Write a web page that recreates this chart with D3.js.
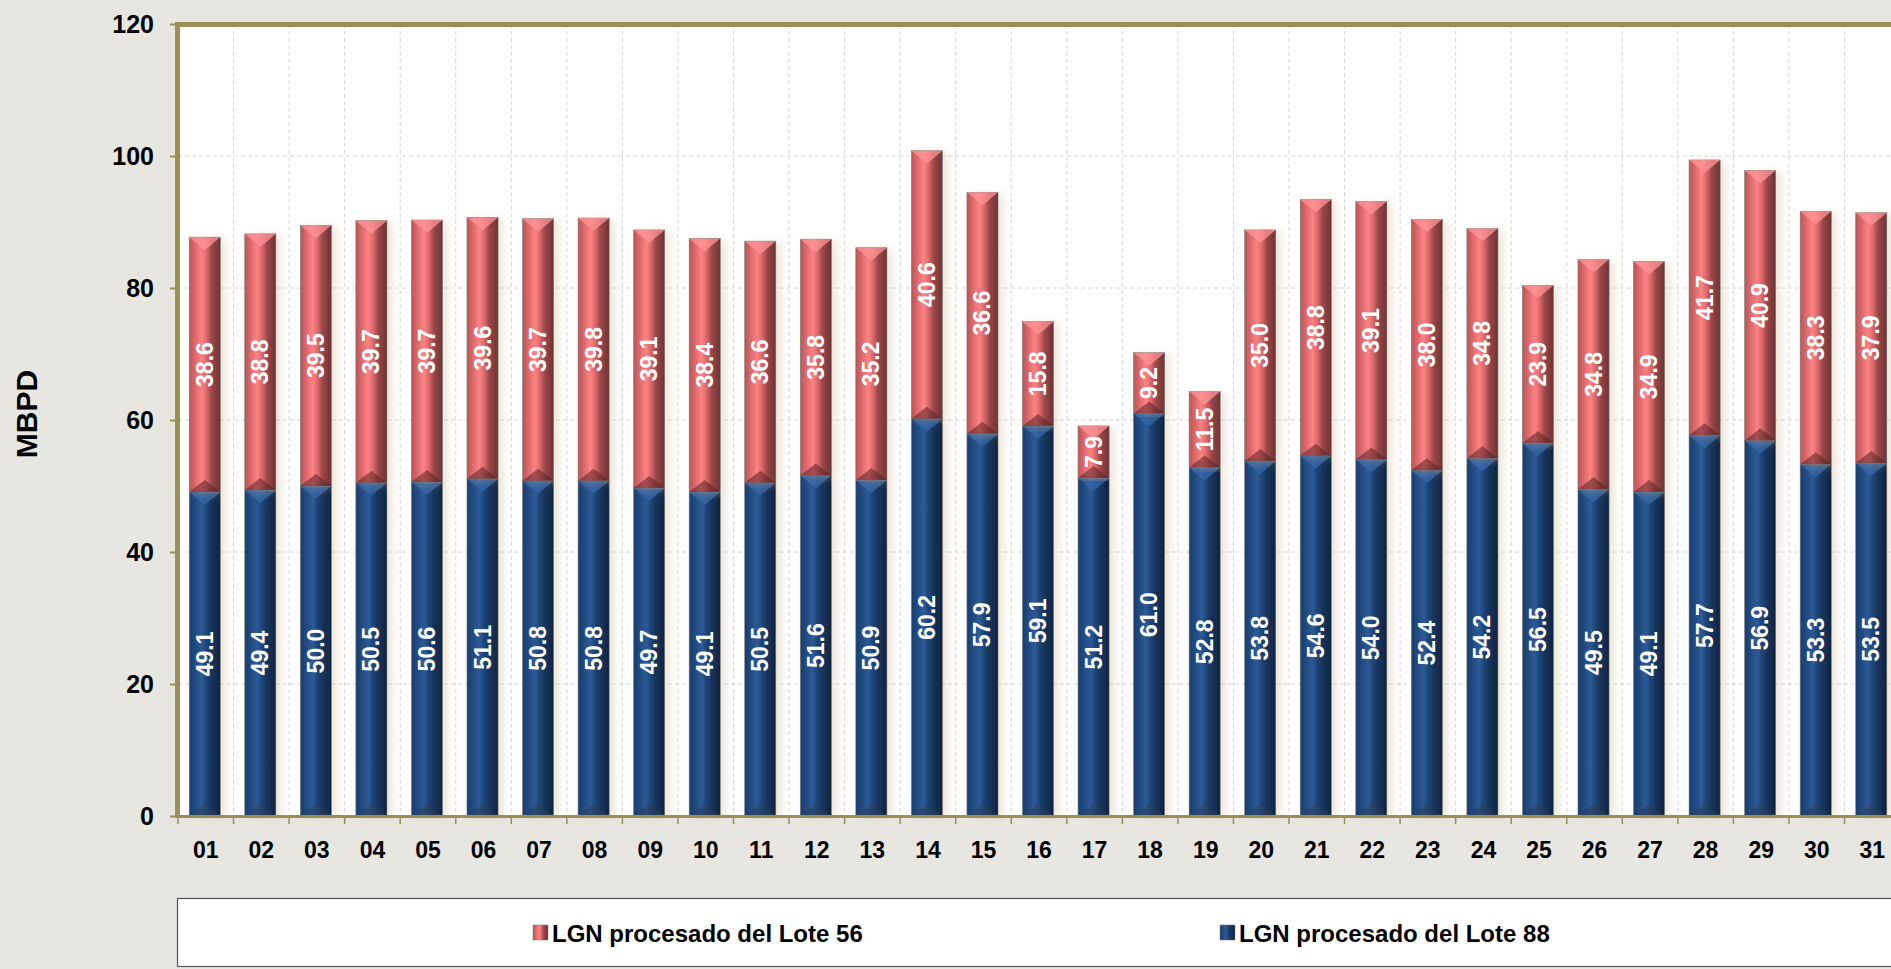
<!DOCTYPE html>
<html>
<head>
<meta charset="utf-8">
<script src="https://cdnjs.cloudflare.com/ajax/libs/d3/7.8.5/d3.min.js"></script>
<style>
html, body { margin: 0; padding: 0; background: #e7e6e1; overflow: hidden; }
svg { display: block; font-family: 'Liberation Sans', Arial, sans-serif; }
</style>
</head>
<body>
<svg id="chart"></svg>
<script>
// data
var days = ['01', '02', '03', '04', '05', '06', '07', '08', '09', '10', '11', '12', '13', '14', '15', '16',
  '17', '18', '19', '20', '21', '22', '23', '24', '25', '26', '27', '28', '29', '30', '31'];
var lote88 = [49.1, 49.4, 50.0, 50.5, 50.6, 51.1, 50.8, 50.8, 49.7, 49.1, 50.5, 51.6, 50.9, 60.2, 57.9, 59.1,
  51.2, 61.0, 52.8, 53.8, 54.6, 54.0, 52.4, 54.2, 56.5, 49.5, 49.1, 57.7, 56.9, 53.3, 53.5];
var lote56 = [38.6, 38.8, 39.5, 39.7, 39.7, 39.6, 39.7, 39.8, 39.1, 38.4, 36.6, 35.8, 35.2, 40.6, 36.6, 15.8,
  7.9, 9.2, 11.5, 35.0, 38.8, 39.1, 38.0, 34.8, 23.9, 34.8, 34.9, 41.7, 40.9, 38.3, 37.9];
var yTicks = [0, 20, 40, 60, 80, 100, 120];
var seriesNames = ['LGN procesado del Lote 56', 'LGN procesado del Lote 88'];
var yTitle = 'MBPD';

var width = 1891;
var height = 969;
var plot = {
  left: 178,
  top: 24,
  bottom: 816,
  band: 55.55
};
var olive = '#9a8f57';

var svg = d3.select('#chart').attr('width', width).attr('height', height);
var defs = svg.append('defs');

var x = d3.scaleBand()
  .domain(days)
  .range([plot.left, plot.left + plot.band * days.length])
  .padding(0);
var y = d3.scaleLinear().domain([0, 120]).range([plot.bottom, plot.top]);
var barW = x.bandwidth() * 0.56;

var table = days.map(function(d, i) {
  return { day: d, l88: lote88[i], l56: lote56[i] };
});
var stacked = d3.stack().keys(['l88', 'l56'])(table);

// gradients for the bevelled bars
var grads = {
  l56: [['0%', '#b95557'], ['18%', '#d9686a'], ['40%', '#ff8284'], ['55%', '#dc6a6c'], ['72%', '#9c4648'], ['100%', '#6c3335']],
  l88: [['0%', '#1b3d6c'], ['18%', '#21497f'], ['40%', '#2d5b97'], ['55%', '#1f4576'], ['72%', '#17345c'], ['100%', '#0f2440']]
};
Object.keys(grads).forEach(function(k) {
  var g = defs.append('linearGradient').attr('id', 'grad-' + k)
    .attr('x1', '0%').attr('x2', '100%').attr('y1', '0%').attr('y2', '0%');
  grads[k].forEach(function(s) {
    g.append('stop').attr('offset', s[0]).attr('stop-color', s[1]);
  });
});
var shadow = defs.append('filter').attr('id', 'shadow')
  .attr('x', '-20%').attr('y', '-5%').attr('width', '160%').attr('height', '110%');
shadow.append('feDropShadow')
  .attr('dx', 5).attr('dy', 2).attr('stdDeviation', 4)
  .attr('flood-color', '#c9b58f').attr('flood-opacity', 0.35);

// plot background
svg.append('rect')
  .attr('x', plot.left).attr('y', plot.top)
  .attr('width', width - plot.left).attr('height', plot.bottom - plot.top)
  .attr('fill', '#ffffff');

// grid
var grid = svg.append('g').attr('stroke', '#d6d6d6').attr('stroke-dasharray', '4,3').attr('stroke-width', 1);
grid.selectAll('.hgrid').data(yTicks.filter(function(t) { return t > 0 && t < 120; }))
  .enter().append('line').classed('hgrid', true)
  .attr('x1', plot.left).attr('x2', width)
  .attr('y1', function(d) { return y(d); })
  .attr('y2', function(d) { return y(d); });
grid.selectAll('.vgrid').data(days.slice(1))
  .enter().append('line').classed('vgrid', true)
  .attr('x1', function(d) { return x(d); })
  .attr('x2', function(d) { return x(d); })
  .attr('y1', plot.top).attr('y2', plot.bottom);

// bars
var barX = function(d) {
  return x(d.data.day) + (x.bandwidth() - barW) / 2 - 1;
};
var layers = svg.append('g').selectAll('.layer').data(stacked).enter()
  .append('g').classed('layer', true);
var segs = layers.selectAll('.seg').data(function(s) {
  return s.map(function(d) { d.key = s.key; return d; });
}).enter().append('g').classed('seg', true);

segs.append('rect')
  .attr('x', barX)
  .attr('y', function(d) { return y(d[1]); })
  .attr('width', barW)
  .attr('height', function(d) { return y(d[0]) - y(d[1]); })
  .attr('fill', function(d) { return 'url(#grad-' + d.key + ')'; })
  .attr('stroke', '#7a7a7a').attr('stroke-width', 0.6)
  .attr('filter', 'url(#shadow)');

// top bevel
segs.append('path')
  .attr('d', function(d) {
    var x0 = barX(d), x1 = x0 + barW, xc = x0 + barW / 2, t = y(d[1]);
    return 'M' + x0 + ',' + t + 'L' + x1 + ',' + t + 'L' + xc + ',' + (t + 13) + 'Z';
  })
  .attr('fill', function(d) { return d.key === 'l56' ? '#ff9496' : '#3567a8'; })
  .attr('opacity', 0.75);
// bottom bevel
segs.append('path')
  .attr('d', function(d) {
    var x0 = barX(d), x1 = x0 + barW, xc = x0 + barW / 2, b = y(d[0]);
    return 'M' + x0 + ',' + b + 'L' + x1 + ',' + b + 'L' + xc + ',' + (b - 12) + 'Z';
  })
  .attr('fill', function(d) { return d.key === 'l56' ? '#5a2224' : '#2b3e5a'; })
  .attr('opacity', 0.55);

// value labels
segs.append('text')
  .attr('transform', function(d) {
    var cx = barX(d) + barW / 2;
    var cy = (y(d[0]) + y(d[1])) / 2;
    return 'translate(' + cx + ',' + cy + ') rotate(-90)';
  })
  .attr('text-anchor', 'middle')
  .attr('dominant-baseline', 'central')
  .attr('fill', '#ffffff')
  .style('font-size', '23px')
  .style('font-weight', 'bold')
  .text(function(d) { return d3.format('.1f')(d[1] - d[0]); });

// frame
svg.append('rect').attr('x', 175).attr('y', 22).attr('width', width - 175).attr('height', 5).attr('fill', olive);
svg.append('rect').attr('x', 175).attr('y', 22).attr('width', 5).attr('height', plot.bottom - 20).attr('fill', olive);
svg.append('rect').attr('x', 175).attr('y', plot.bottom - 1).attr('width', width - 175).attr('height', 3).attr('fill', olive);

// y axis
var yAxis = svg.append('g')
  .attr('transform', 'translate(' + plot.left + ',0)')
  .call(d3.axisLeft(y).tickValues(yTicks).tickSize(8).tickPadding(16));
yAxis.select('.domain').remove();
yAxis.selectAll('line').attr('stroke', olive).attr('stroke-width', 2);
yAxis.selectAll('text')
  .attr('fill', '#000')
  .style('font-size', '25px')
  .style('font-weight', 'bold')
  .style('font-family', "'Liberation Sans', Arial, sans-serif");

// x axis
var xAxis = svg.append('g')
  .attr('transform', 'translate(0,' + plot.bottom + ')')
  .call(d3.axisBottom(x).tickSize(0).tickPadding(26));
xAxis.select('.domain').remove();
xAxis.selectAll('text')
  .attr('fill', '#000')
  .style('font-size', '23px')
  .style('font-weight', 'bold')
  .style('font-family', "'Liberation Sans', Arial, sans-serif");
svg.append('g').selectAll('.xtick').data(days.concat(['end']))
  .enter().append('line').classed('xtick', true)
  .attr('x1', function(d, i) { return plot.left + i * x.bandwidth(); })
  .attr('x2', function(d, i) { return plot.left + i * x.bandwidth(); })
  .attr('y1', plot.bottom + 2).attr('y2', plot.bottom + 8)
  .attr('stroke', olive).attr('stroke-width', 1.5);

// y title
svg.append('text')
  .attr('transform', 'translate(26,414) rotate(-90)')
  .attr('text-anchor', 'middle')
  .attr('dominant-baseline', 'central')
  .style('font-size', '30px')
  .style('font-weight', 'bold')
  .text(yTitle);

// legend
var legend = svg.append('g');
legend.append('rect')
  .attr('x', 177.5).attr('y', 898.5)
  .attr('width', width).attr('height', 68)
  .attr('fill', '#ffffff').attr('stroke', '#555555').attr('stroke-width', 1.2);
var legendItems = [
  { name: seriesNames[0], key: 'l56', x: 533 },
  { name: seriesNames[1], key: 'l88', x: 1220 }
];
var li = legend.selectAll('.legend-item').data(legendItems).enter()
  .append('g').classed('legend-item', true)
  .attr('transform', function(d) { return 'translate(' + d.x + ',925)'; });
li.append('rect')
  .attr('width', 15).attr('height', 15)
  .attr('fill', function(d) { return 'url(#grad-' + d.key + ')'; })
  .attr('stroke', '#777').attr('stroke-width', 0.5);
li.append('text')
  .attr('x', 19).attr('y', 8)
  .attr('dominant-baseline', 'central')
  .style('font-size', '24px')
  .style('font-weight', 'bold')
  .text(function(d) { return d.name; });
</script>
</body>
</html>
